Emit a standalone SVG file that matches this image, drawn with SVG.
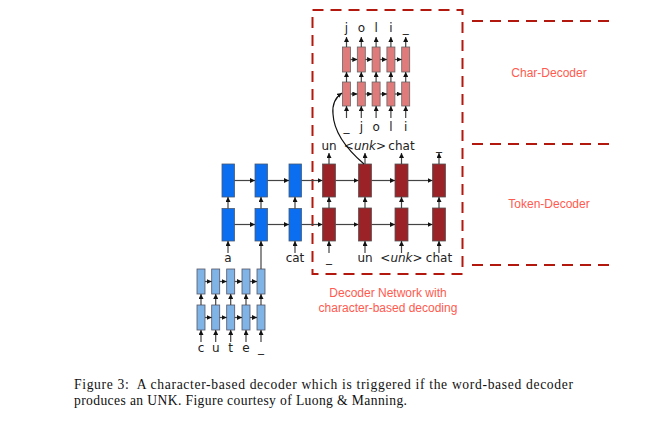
<svg xmlns="http://www.w3.org/2000/svg" width="662" height="423" viewBox="0 0 662 423">
<defs>
<marker id="ah" viewBox="0 0 6 6" refX="6" refY="3" markerWidth="5" markerHeight="5" markerUnits="userSpaceOnUse" orient="auto"><path d="M0,0 L6,3 L0,6 z" fill="#111"/></marker>
<style>
.ln{stroke:#444;stroke-width:1.2;fill:none;marker-end:url(#ah)}
.cv{stroke:#111;stroke-width:1.2;fill:none;marker-end:url(#ah)}
.blue{fill:#0b6ef0;stroke:#4a5a70;stroke-width:0.8}
.red{fill:#9b2226;stroke:#555;stroke-width:0.8}
.pink{fill:#e07b7b;stroke:#666;stroke-width:0.8}
.lb{fill:#80b3e6;stroke:#556;stroke-width:0.8}
.lab{font-family:"DejaVu Sans",sans-serif;font-size:12px;fill:#222;text-anchor:middle}
.note{font-family:"Liberation Sans",Arial,sans-serif;font-size:12px;fill:#ff5a4f;text-anchor:middle}
.dash{stroke:#b3180e;stroke-width:2;fill:none;stroke-dasharray:11 7}
.cap{font-family:"Liberation Serif","Times New Roman",serif;font-size:13.6px;fill:#111}
</style>
</defs>
<rect width="662" height="423" fill="#fff"/>

<g id="frames">
<rect class="dash" x="312.5" y="10" width="150" height="264"/>
<line class="dash" x1="472" y1="21" x2="616" y2="21"/>
<line class="dash" x1="472" y1="144" x2="616" y2="144"/>
<line class="dash" x1="472" y1="265" x2="616" y2="265"/>
<text class="note" x="549" y="77">Char-Decoder</text>
<text class="note" x="549" y="208">Token-Decoder</text>
<text class="note" x="388" y="297">Decoder Network with</text>
<text class="note" x="388" y="312">character-based decoding</text>
</g>

<g id="char-decoder">
<rect class="pink" x="342.5" y="47" width="8" height="25"/>
<rect class="pink" x="357.3" y="47" width="8" height="25"/>
<rect class="pink" x="372.1" y="47" width="8" height="25"/>
<rect class="pink" x="386.9" y="47" width="8" height="25"/>
<rect class="pink" x="401.7" y="47" width="8" height="25"/>
<rect class="pink" x="342.5" y="82" width="8" height="24"/>
<rect class="pink" x="357.3" y="82" width="8" height="24"/>
<rect class="pink" x="372.1" y="82" width="8" height="24"/>
<rect class="pink" x="386.9" y="82" width="8" height="24"/>
<rect class="pink" x="401.7" y="82" width="8" height="24"/>
<text class="lab" x="346.5" y="32">j</text>
<text class="lab" x="361.3" y="32">o</text>
<text class="lab" x="376.1" y="32">l</text>
<text class="lab" x="390.9" y="32">i</text>
<text class="lab" x="405.7" y="32">_</text>
<text class="lab" x="346.5" y="131">_</text>
<text class="lab" x="361.3" y="131">j</text>
<text class="lab" x="376.1" y="131">o</text>
<text class="lab" x="390.9" y="131">l</text>
<text class="lab" x="405.7" y="131">i</text>
</g>

<g id="token-decoder">
<rect class="red" x="322.5" y="164" width="13" height="33"/>
<rect class="red" x="358.5" y="164" width="13" height="33"/>
<rect class="red" x="395" y="164" width="13" height="33"/>
<rect class="red" x="432.5" y="164" width="13" height="33"/>
<rect class="red" x="322.5" y="208" width="13" height="33"/>
<rect class="red" x="358.5" y="208" width="13" height="33"/>
<rect class="red" x="395" y="208" width="13" height="33"/>
<rect class="red" x="432.5" y="208" width="13" height="33"/>
<text class="lab" x="329" y="150">un</text>
<text class="lab" x="365" y="150">&lt;<tspan font-style="italic">unk</tspan>&gt;</text>
<text class="lab" x="401.5" y="150">chat</text>
<text class="lab" x="439" y="150">_</text>
<text class="lab" x="329" y="262">_</text>
<text class="lab" x="365" y="262">un</text>
<text class="lab" x="401.5" y="262">&lt;<tspan font-style="italic">unk</tspan>&gt;</text>
<text class="lab" x="439" y="262">chat</text>
</g>

<g id="word-encoder">
<rect class="blue" x="222" y="164" width="12.5" height="33"/>
<rect class="blue" x="255" y="164" width="12.5" height="33"/>
<rect class="blue" x="289" y="164" width="12.5" height="33"/>
<rect class="blue" x="222" y="208.5" width="12.5" height="32.5"/>
<rect class="blue" x="255" y="208.5" width="12.5" height="32.5"/>
<rect class="blue" x="289" y="208.5" width="12.5" height="32.5"/>
<text class="lab" x="228" y="262">a</text>
<text class="lab" x="295" y="262">cat</text>
</g>

<g id="char-encoder">
<rect class="lb" x="197" y="269" width="8" height="25"/>
<rect class="lb" x="211.7" y="269" width="8" height="25"/>
<rect class="lb" x="226.7" y="269" width="8" height="25"/>
<rect class="lb" x="242" y="269" width="8" height="25"/>
<rect class="lb" x="257" y="269" width="8" height="25"/>
<rect class="lb" x="197" y="305" width="8" height="25"/>
<rect class="lb" x="211.7" y="305" width="8" height="25"/>
<rect class="lb" x="226.7" y="305" width="8" height="25"/>
<rect class="lb" x="242" y="305" width="8" height="25"/>
<rect class="lb" x="257" y="305" width="8" height="25"/>
<text class="lab" x="201" y="352">c</text>
<text class="lab" x="215.7" y="352">u</text>
<text class="lab" x="230.7" y="352">t</text>
<text class="lab" x="246" y="352">e</text>
<text class="lab" x="261" y="352">_</text>
</g>

<g id="connectors">
<line class="ln" x1="346.5" y1="47" x2="346.5" y2="37"/>
<line class="ln" x1="361.3" y1="47" x2="361.3" y2="37"/>
<line class="ln" x1="376.1" y1="47" x2="376.1" y2="37"/>
<line class="ln" x1="390.9" y1="47" x2="390.9" y2="37"/>
<line class="ln" x1="405.7" y1="47" x2="405.7" y2="37"/>
<line class="ln" x1="346.5" y1="82" x2="346.5" y2="72"/>
<line class="ln" x1="361.3" y1="82" x2="361.3" y2="72"/>
<line class="ln" x1="376.1" y1="82" x2="376.1" y2="72"/>
<line class="ln" x1="390.9" y1="82" x2="390.9" y2="72"/>
<line class="ln" x1="405.7" y1="82" x2="405.7" y2="72"/>
<line class="ln" x1="346.5" y1="118" x2="346.5" y2="106"/>
<line class="ln" x1="361.3" y1="118" x2="361.3" y2="106"/>
<line class="ln" x1="376.1" y1="118" x2="376.1" y2="106"/>
<line class="ln" x1="390.9" y1="118" x2="390.9" y2="106"/>
<line class="ln" x1="405.7" y1="118" x2="405.7" y2="106"/>
<line class="ln" x1="350.5" y1="59.5" x2="357.3" y2="59.5"/>
<line class="ln" x1="365.3" y1="59.5" x2="372.1" y2="59.5"/>
<line class="ln" x1="380.1" y1="59.5" x2="386.9" y2="59.5"/>
<line class="ln" x1="394.9" y1="59.5" x2="401.7" y2="59.5"/>
<line class="ln" x1="350.5" y1="94" x2="357.3" y2="94"/>
<line class="ln" x1="365.3" y1="94" x2="372.1" y2="94"/>
<line class="ln" x1="380.1" y1="94" x2="386.9" y2="94"/>
<line class="ln" x1="394.9" y1="94" x2="401.7" y2="94"/>
<path class="cv" d="M364,164 C350,152 334,134 333,114 C332,104 336,97 342,93"/>
<line class="ln" x1="329" y1="164" x2="329" y2="153"/>
<line class="ln" x1="365" y1="164" x2="365" y2="153"/>
<line class="ln" x1="401.5" y1="164" x2="401.5" y2="153"/>
<line class="ln" x1="439" y1="164" x2="439" y2="153"/>
<line class="ln" x1="329" y1="208" x2="329" y2="197"/>
<line class="ln" x1="365" y1="208" x2="365" y2="197"/>
<line class="ln" x1="401.5" y1="208" x2="401.5" y2="197"/>
<line class="ln" x1="439" y1="208" x2="439" y2="197"/>
<line class="ln" x1="329" y1="253" x2="329" y2="241"/>
<line class="ln" x1="365" y1="253" x2="365" y2="241"/>
<line class="ln" x1="401.5" y1="253" x2="401.5" y2="241"/>
<line class="ln" x1="439" y1="253" x2="439" y2="241"/>
<line class="ln" x1="335.5" y1="180.5" x2="358.5" y2="180.5"/>
<line class="ln" x1="371.5" y1="180.5" x2="395" y2="180.5"/>
<line class="ln" x1="408" y1="180.5" x2="432.5" y2="180.5"/>
<line class="ln" x1="335.5" y1="224.5" x2="358.5" y2="224.5"/>
<line class="ln" x1="371.5" y1="224.5" x2="395" y2="224.5"/>
<line class="ln" x1="408" y1="224.5" x2="432.5" y2="224.5"/>
<line class="ln" x1="234.5" y1="180.5" x2="255" y2="180.5"/>
<line class="ln" x1="267.5" y1="180.5" x2="289" y2="180.5"/>
<line class="ln" x1="301.5" y1="180.5" x2="322.5" y2="180.5"/>
<line class="ln" x1="234.5" y1="224.5" x2="255" y2="224.5"/>
<line class="ln" x1="267.5" y1="224.5" x2="289" y2="224.5"/>
<line class="ln" x1="301.5" y1="224.5" x2="322.5" y2="224.5"/>
<line class="ln" x1="228" y1="208.5" x2="228" y2="197"/>
<line class="ln" x1="261" y1="208.5" x2="261" y2="197"/>
<line class="ln" x1="295" y1="208.5" x2="295" y2="197"/>
<line class="ln" x1="228" y1="253" x2="228" y2="241"/>
<line class="ln" x1="295" y1="253" x2="295" y2="241"/>
<line class="ln" x1="261" y1="269" x2="261" y2="241"/>
<line class="ln" x1="201" y1="305" x2="201" y2="294"/>
<line class="ln" x1="215.7" y1="305" x2="215.7" y2="294"/>
<line class="ln" x1="230.7" y1="305" x2="230.7" y2="294"/>
<line class="ln" x1="246" y1="305" x2="246" y2="294"/>
<line class="ln" x1="261" y1="305" x2="261" y2="294"/>
<line class="ln" x1="201" y1="342" x2="201" y2="330"/>
<line class="ln" x1="215.7" y1="342" x2="215.7" y2="330"/>
<line class="ln" x1="230.7" y1="342" x2="230.7" y2="330"/>
<line class="ln" x1="246" y1="342" x2="246" y2="330"/>
<line class="ln" x1="261" y1="342" x2="261" y2="330"/>
<line class="ln" x1="205" y1="281.5" x2="211.7" y2="281.5"/>
<line class="ln" x1="219.7" y1="281.5" x2="226.7" y2="281.5"/>
<line class="ln" x1="234.7" y1="281.5" x2="242" y2="281.5"/>
<line class="ln" x1="250" y1="281.5" x2="257" y2="281.5"/>
<line class="ln" x1="205" y1="317.5" x2="211.7" y2="317.5"/>
<line class="ln" x1="219.7" y1="317.5" x2="226.7" y2="317.5"/>
<line class="ln" x1="234.7" y1="317.5" x2="242" y2="317.5"/>
<line class="ln" x1="250" y1="317.5" x2="257" y2="317.5"/>
</g>

<g id="caption">
<text class="cap" x="74" y="389" textLength="499" lengthAdjust="spacing">Figure 3:&#160; A character-based decoder which is triggered if the word-based decoder</text>
<text class="cap" x="74" y="405" textLength="333" lengthAdjust="spacing">produces an UNK. Figure courtesy of Luong &amp; Manning.</text>
</g>
</svg>
